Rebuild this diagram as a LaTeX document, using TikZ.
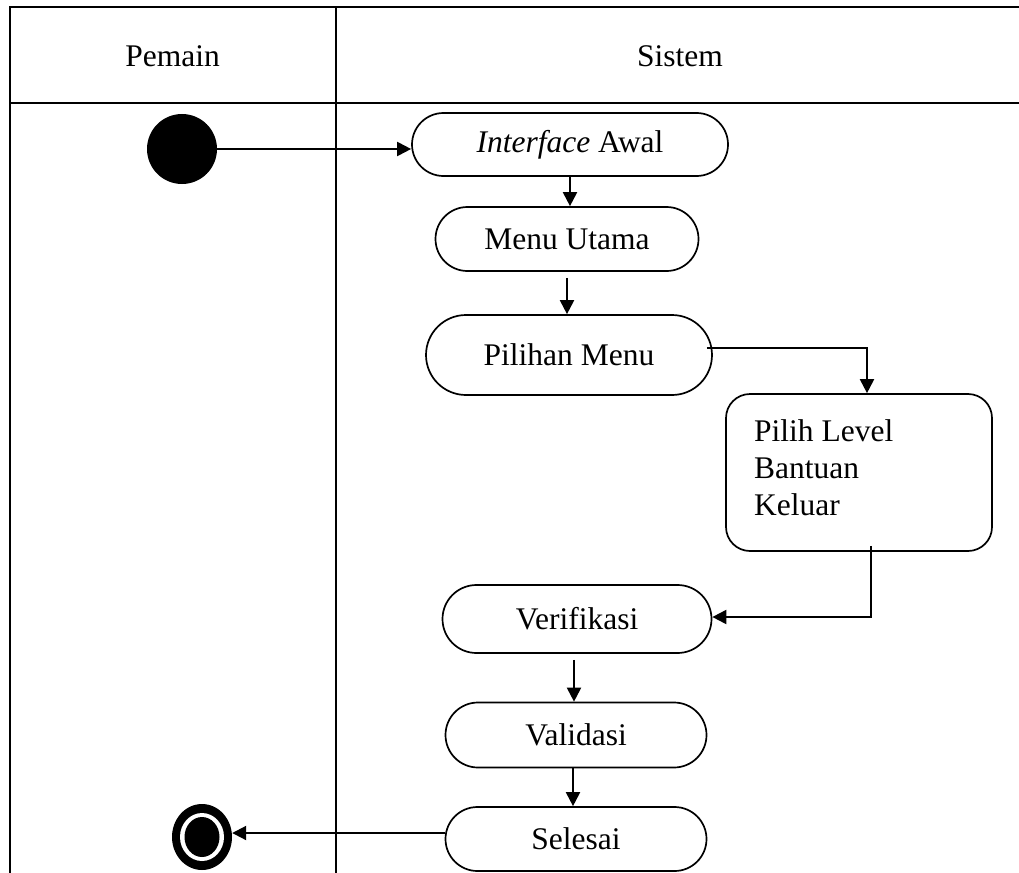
\documentclass[tikz,border=0pt]{standalone}
\usepackage{fontspec}
\setmainfont{Liberation Serif}
\usetikzlibrary{arrows.meta,shapes.misc,shapes.geometric,calc}

\tikzset{
  lane/.style={line width=2.2pt, line cap=rect},
  txt/.style={font=\fontsize{31.5}{37}\selectfont},
  activity/.style={rounded rectangle, draw, line width=1.7pt, inner sep=0pt, txt},
  arr/.style={line width=2pt, -{Triangle[length=14pt,width=14pt]}},
}

\begin{document}
\begin{tikzpicture}[x=1pt,y=-1pt]
\useasboundingbox (0,0) rectangle (1019,872);

% swimlane frame
\draw[lane] (10,7) -- (1019,7);
\draw[lane] (10,103) -- (1019,103);
\draw[lane] (10,7) -- (10,872);
\draw[lane] (336,7) -- (336,872);

% lane headings
\node[txt, anchor=base] (hpemain) at (172.5,67) {Pemain};
\node[txt, anchor=base] (hsistem) at (680,67) {Sistem};

% start and end states
\node[circle, fill=black, minimum size=70pt, inner sep=0pt] (start) at (182,149) {};
\node[ellipse, fill=black, minimum width=60pt, minimum height=66pt, inner sep=0pt] (fin) at (202,837) {};
\node[ellipse, fill=white, minimum width=44pt, minimum height=48pt, inner sep=0pt] (finring) at (fin.center) {};
\node[ellipse, fill=black, minimum width=35pt, minimum height=40pt, inner sep=0pt] (findot) at (fin.center) {};

% activities
\node[activity, minimum width=316pt, minimum height=63pt] (ia) at (570,144.5) {\textit{Interface} Awal};
\node[activity, minimum width=263pt, minimum height=64pt] (mu) at (567,239) {Menu Utama};
\node[activity, minimum width=286pt, minimum height=80pt] (pm) at (569,355) {Pilihan Menu};
\node[draw, line width=1.7pt, rounded corners=24pt, minimum width=266pt, minimum height=157pt, inner sep=0pt] (pl) at (859,472.5) {};
\node[txt, anchor=north west, inner sep=0pt, align=left] (pltext) at (754,419) {Pilih Level\\Bantuan\\Keluar};
\node[activity, minimum width=269pt, minimum height=68pt] (vf) at (577,619) {Verifikasi};
\node[activity, minimum width=261pt, minimum height=65pt] (vd) at (576,735) {Validasi};
\node[activity, minimum width=261pt, minimum height=64pt] (se) at (576,839) {Selesai};

% connector start points
\coordinate (muout) at ($(mu.south)+(0,6)$);
\coordinate (pmout) at ($(pm.east)+(-6,-7)$);
\coordinate (plin) at ($(pl.north)+(8,0)$);
\coordinate (plout) at ($(pl.south)+(12,-6)$);
\coordinate (vfin) at ($(vf.east)+(0,-2)$);
\coordinate (vfout) at ($(vf.south)+(-3,6)$);
\coordinate (vdout) at ($(vd.south)+(-3,0)$);
\coordinate (seout) at ($(se.west)+(0,-6)$);

% control flow
\draw[arr] (start.east) -- (start.east -| ia.west);
\draw[arr] (ia.south) -- (ia.south |- mu.north);
\draw[arr] (muout) -- (muout |- pm.north);
\draw[arr] (pmout) -| (plin);
\draw[arr] (plout) |- (vfin);
\draw[arr] (vfout) -- (vfout |- vd.north);
\draw[arr] (vdout) -- (vdout |- se.north);
\draw[arr] (seout) -- (seout -| fin.east);
\end{tikzpicture}
\end{document}
